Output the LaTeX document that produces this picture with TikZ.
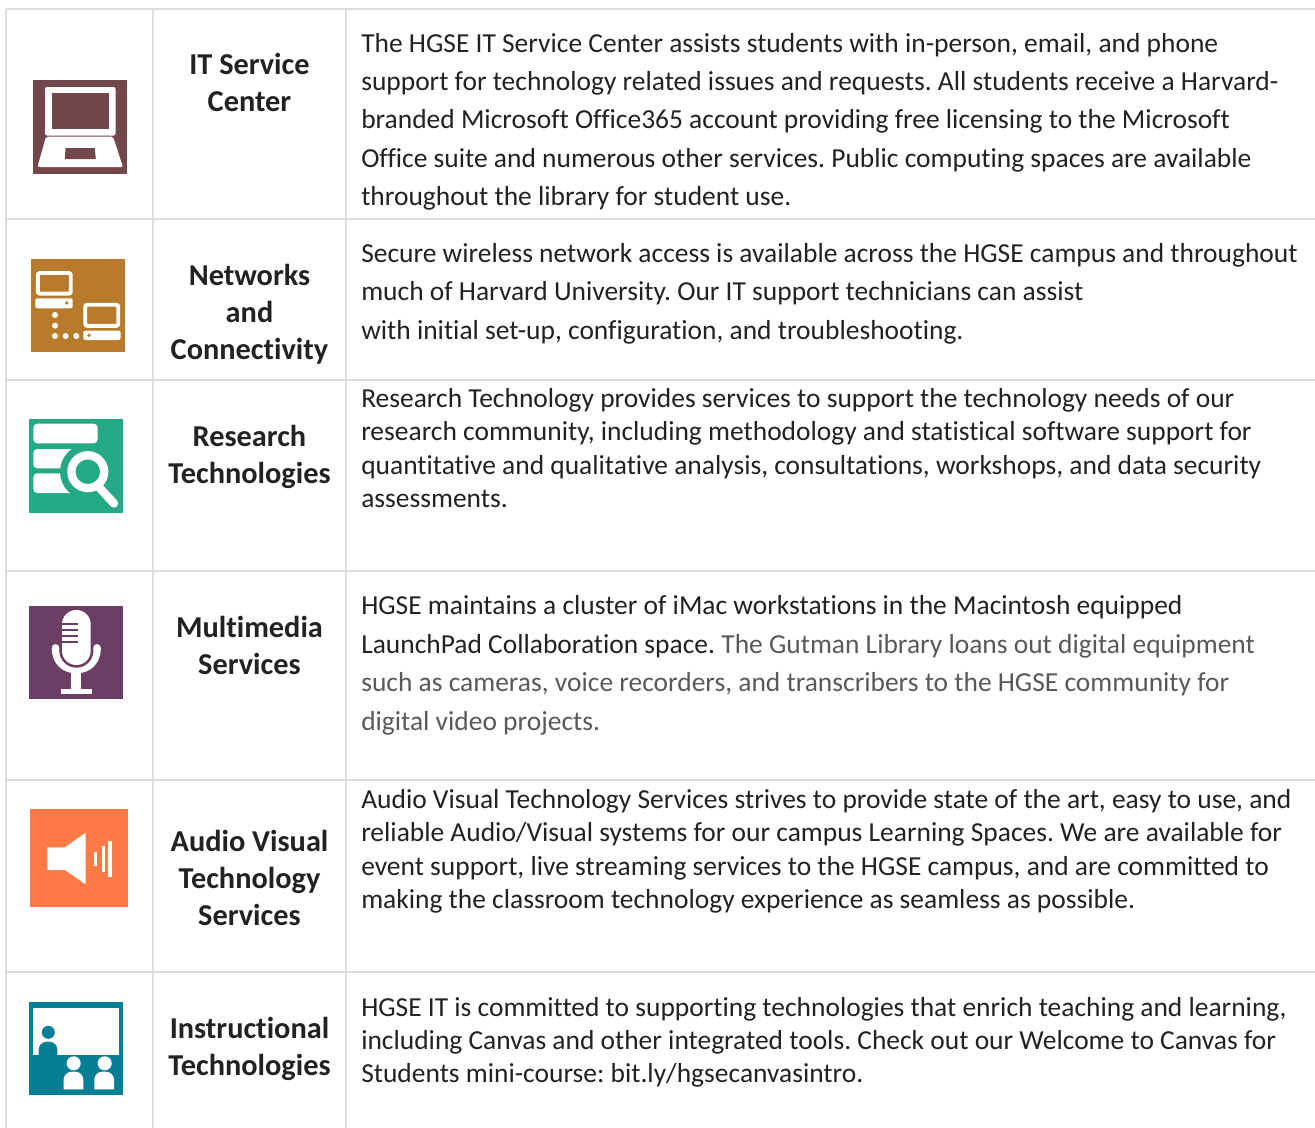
\documentclass[tikz,border=0pt]{standalone}
\usepackage{fontspec}
\setmainfont[Ligatures=NoCommon]{Carlito}
\frenchspacing
\definecolor{rule}{HTML}{DDDDDD}
\definecolor{bodyc}{HTML}{222222}
\definecolor{greyc}{HTML}{595959}
\definecolor{cA}{HTML}{72474C}
\definecolor{cB}{HTML}{B87B2B}
\definecolor{cC}{HTML}{25A885}
\definecolor{cD}{HTML}{6B3F63}
\definecolor{cE}{HTML}{FF7A47}
\definecolor{cF}{HTML}{067F94}
\tikzset{x=0.75pt,y=-0.75pt,
 gridline/.style={draw=rule,line width=1.15pt},
 head/.style={font=\fontsize{22.75pt}{27.75pt}\selectfont\bfseries,text=bodyc,align=center,inner sep=0pt},
 body/.style={font=\fontsize{20.6pt}{24pt}\selectfont,text=bodyc,anchor=base west,inner sep=0pt,yshift=-0.45pt},
 ic/.style={fill=white,draw=none}}
\begin{document}
\begin{tikzpicture}
\useasboundingbox (0,0) rectangle (1315,1128);
\fill[white] (0,0) rectangle (1315,1128);
% grid
\foreach \yy in {9,219,380,571,780,972} \draw[gridline] (6,\yy) -- (1315,\yy);
\foreach \xx in {6,153,346} \draw[gridline] (\xx,9) -- (\xx,1128);
% headings
\node[head] (h1) at (249.5,82.3) {IT Service\\Center};
\node[head] (h2) at (249.5,314) {Networks\\and\\Connectivity};
\node[head] (h3) at (249.5,457) {Research\\Technologies};
\node[head] (h4) at (249.5,645.6) {Multimedia\\Services};
\node[head] (h5) at (249.5,878) {Audio Visual\\Technology\\Services};
\node[head] (h6) at (249.5,1049) {Instructional\\Technologies};
% body
\node[body] (t1) at (361,52) {The HGSE IT Service Center assists students with in-person, email, and phone};
\node[body] (t2) at (361,90) {support for technology related issues and requests. All students receive a Harvard-};
\node[body] (t3) at (361,128) {branded Microsoft Office365 account providing free licensing to the Microsoft};
\node[body] (t4) at (361,167) {Office suite and numerous other services. Public computing spaces are available};
\node[body] (t5) at (361,205) {throughout the library for student use.};
\node[body] (t6) at (361,262) {Secure wireless network access is available across the HGSE campus and throughout};
\node[body] (t7) at (361,300) {much of Harvard University. Our IT support technicians can assist};
\node[body] (t8) at (361,339) {with initial set-up, configuration, and troubleshooting.};
\node[body] (t9) at (361,407) {Research Technology provides services to support the technology needs of our};
\node[body] (t10) at (361,440) {research community, including methodology and statistical software support for};
\node[body] (t11) at (361,474) {quantitative and qualitative analysis, consultations, workshops, and data security};
\node[body] (t12) at (361,507) {assessments.};
\node[body] (t13) at (361,614) {HGSE maintains a cluster of iMac workstations in the Macintosh equipped};
\node[body] (t14) at (361,653) {LaunchPad Collaboration space. \textcolor{greyc}{The Gutman Library loans out digital equipment}};
\node[body,text=greyc] (t15) at (361,691) {such as cameras, voice recorders, and transcribers to the HGSE community for};
\node[body,text=greyc] (t16) at (361,730) {digital video projects.};
\node[body] (t17) at (361,808) {Audio Visual Technology Services strives to provide state of the art, easy to use, and};
\node[body] (t18) at (361,841) {reliable Audio/Visual systems for our campus Learning Spaces. We are available for};
\node[body] (t19) at (361,875) {event support, live streaming services to the HGSE campus, and are committed to};
\node[body] (t20) at (361,908) {making the classroom technology experience as seamless as possible.};
\node[body] (t21) at (361,1016) {HGSE IT is committed to supporting technologies that enrich teaching and learning,};
\node[body] (t22) at (361,1049) {including Canvas and other integrated tools. Check out our Welcome to Canvas for};
\node[body] (t23) at (361,1082) {Students mini-course: bit.ly/hgsecanvasintro.};
% icon 1 laptop
\fill[cA] (33,80) rectangle (127,174);
\fill[ic,rounded corners=1.5pt] (45,87) rectangle (115.5,135.5);
\fill[cA] (51.6,92.8) rectangle (109,129.4);
\fill[ic,rounded corners=1.5pt] (46,136.5) -- (113,136.5) -- (123,167) -- (37.5,167) -- cycle;
\fill[cA] (65.5,148) -- (94.8,148) -- (95.8,159) -- (64.8,159) -- cycle;
% icon 2 network
\fill[cB] (31,259) rectangle (125,352);
\draw[white,line width=2.9pt,rounded corners=1.5pt] (37.9,273) rectangle (70.8,293.6);
\fill[ic,rounded corners=1.5pt] (35.3,298.3) rectangle (72.7,308.3);
\fill[cB] (66.7,303) circle (1.9);
\draw[white,line width=2.9pt,rounded corners=1.5pt] (85.3,304.7) rectangle (118.2,325.9);
\fill[ic,rounded corners=1.5pt] (83.3,330.7) rectangle (120.7,340);
\fill[cB] (89,335.2) circle (1.9);
\foreach \p in {(55,315),(55,325.7),(55,336),(65.7,336),(76.3,336)} \fill[ic] \p circle (3);
% icon 3 research
\fill[cC] (29,419) rectangle (123,513);
\fill[ic,rounded corners=3pt] (33.3,423.7) rectangle (97.7,443.3);
\fill[ic,rounded corners=3pt] (33.3,449) rectangle (80,468.3);
\fill[ic,rounded corners=3pt] (33.3,473.3) rectangle (80,493);
\fill[cC] (87.8,471.7) circle (27.8);
\draw[white,line width=6.2pt] (87.8,471.7) circle (16.4);
\draw[white,line width=6.3pt,line cap=round] (98,486) -- (114,503.5);
% icon 4 mic
\fill[cD] (29,606) rectangle (123,699);
\draw[white,line width=5.8pt,line cap=round] (55.6,648) .. controls (55.6,662) and (65,669.5) .. (76.3,669.5) .. controls (87.6,669.5) and (97,662) .. (97,648);
\fill[ic] (71.3,669) rectangle (81.3,690);
\fill[ic] (61,689.3) rectangle (91.7,694.3);
\fill[cD,rounded corners=12.8pt] (59.3,607) rectangle (93.4,667.7);
\fill[ic,rounded corners=10.7pt] (62,610) rectangle (90.7,665);
\foreach \yy in {624.3,630,636,641.7} \draw[cD,line width=1.6pt] (61,\yy) -- (78.3,\yy);
% icon 5 speaker
\fill[cE] (30,809) rectangle (128,907);
\fill[ic] (47.3,847.3) -- (65,847.3) -- (85.7,832.7) -- (85.7,884.3) -- (65,870) -- (47.3,870) -- cycle;
\fill[ic] (94.3,851.7) rectangle (97.3,866);
\fill[ic] (101.7,845.7) rectangle (104.7,872.3);
\fill[ic] (108,841) rectangle (111.7,876.7);
% icon 6 classroom
\fill[cF] (29,1002) rectangle (123,1095);
\fill[ic] (33.3,1007.7) rectangle (119,1055);
\fill[cF] (48.3,1032.3) circle (6.5);
\fill[cF] (38.7,1056) [rounded corners=6pt] -- (38.7,1041.7) -- (57.3,1041.7) [sharp corners] -- (57.3,1056) -- cycle;
\fill[ic] (73.7,1063.3) circle (7);
\fill[ic] (104.7,1063.3) circle (7);
\fill[ic] (63.7,1089.3) [rounded corners=6pt] -- (63.7,1071.7) -- (83.3,1071.7) [sharp corners] -- (83.3,1089.3) -- cycle;
\fill[ic] (94.3,1089.3) [rounded corners=6pt] -- (94.3,1071.7) -- (114,1071.7) [sharp corners] -- (114,1089.3) -- cycle;
\end{tikzpicture}
\end{document}
